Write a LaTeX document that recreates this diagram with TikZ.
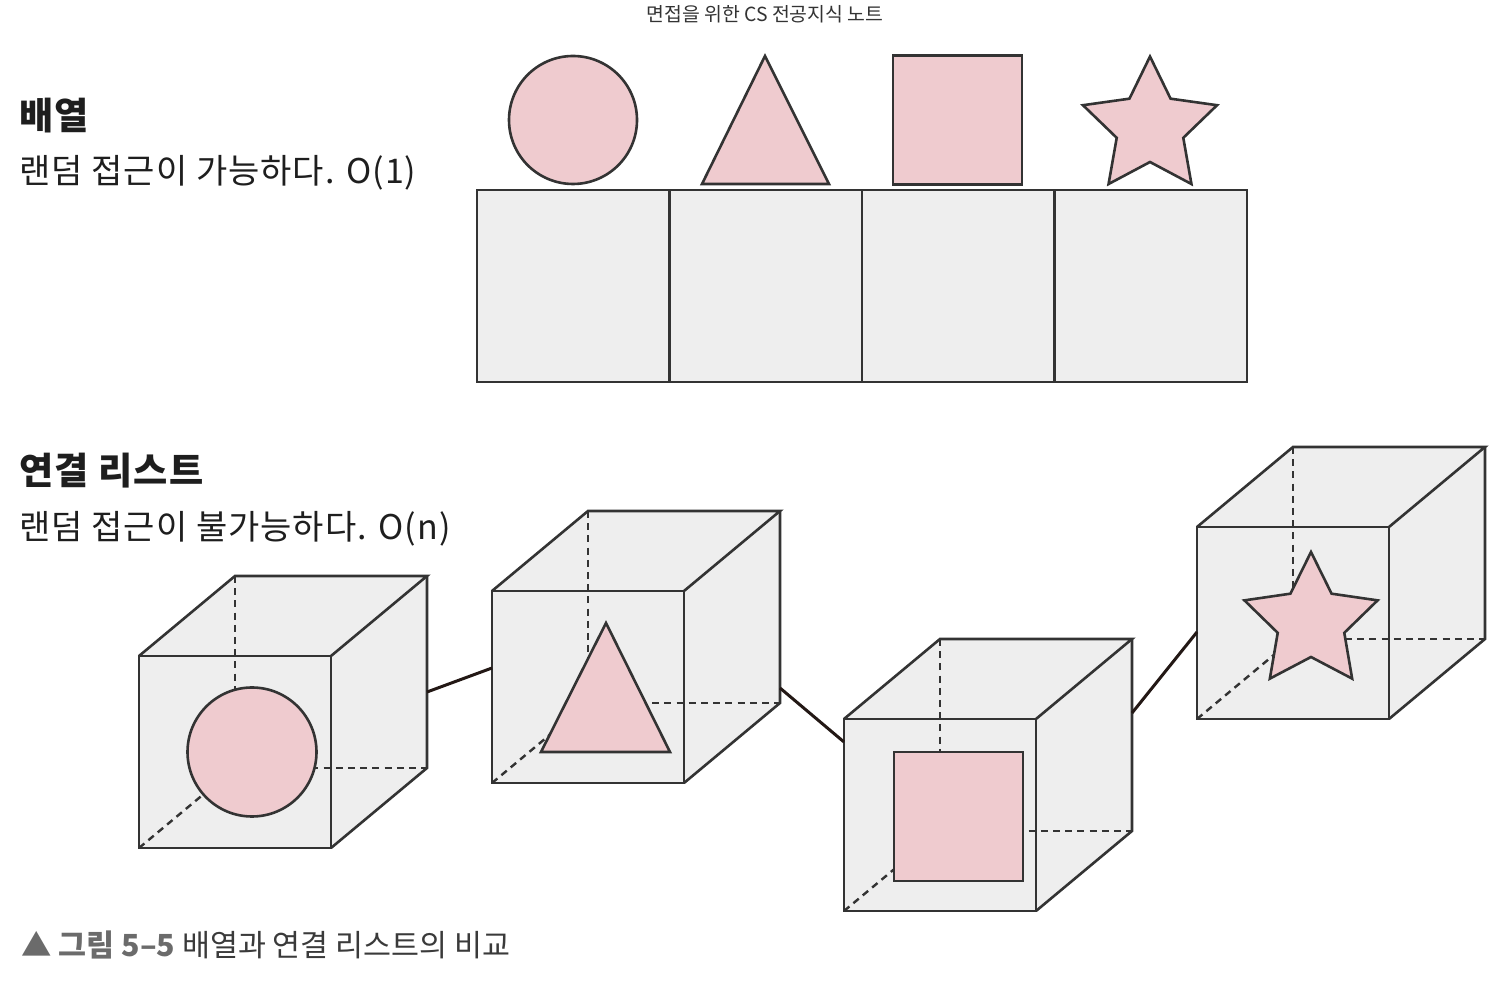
\documentclass[tikz,border=0pt]{standalone}
\usepackage{fontspec}
\newfontfamily\kr{Noto Sans CJK KR}
\newfontfamily\krw{Noto Sans CJK KR}[LetterSpace=3]
\definecolor{pinkf}{HTML}{EFCBCF}
\definecolor{boxf}{HTML}{EEEEEE}
\definecolor{edgec}{HTML}{333333}
\definecolor{linkc}{HTML}{231815}
\definecolor{txt}{HTML}{1E1E1E}
\definecolor{headc}{HTML}{333333}
\definecolor{capg}{HTML}{6B6B6B}
\definecolor{capt}{HTML}{3A3A3A}
\tikzset{
  edgeline/.style={draw=edgec, line width=1.3pt, line join=miter},
  hid/.style={draw=edgec, line width=1.2pt, dash pattern=on 3.5pt off 2.6pt},
  shp/.style={draw=edgec, fill=pinkf, line width=1.3pt, line join=miter},
  cell/.style={draw=edgec, fill=boxf, line width=1.3pt, minimum width=96.25pt, minimum height=96pt, inner sep=0pt, outer sep=0pt},
  linkline/.style={draw=linkc, line width=1.5pt},
  ttl/.style={anchor=west, inner sep=0pt, text=txt, font=\krw\bfseries\fontsize{18.6}{20}\selectfont},
  sub/.style={anchor=west, inner sep=0pt, text=txt, font=\krw\fontsize{17}{19}\selectfont},
}
\newcommand\mycube[3]{%
  \fill[boxf] (#1,#2) -- ({#1+96},{#2-80}) -- ({#1+288},{#2-80}) -- ({#1+288},{#2+112}) -- ({#1+192},{#2+192}) -- (#1,{#2+192}) -- cycle;
  \draw[hid] ({#1+96},{#2-80}) -- ({#1+96},{#2+112}) -- ({#1+288},{#2+112});
  \draw[hid] (#1,{#2+192}) -- ({#1+96},{#2+112});
  \draw[edgeline] (#1,#2) rectangle ({#1+192},{#2+192});
  \draw[edgeline] (#1,#2) -- ({#1+96},{#2-80}) -- ({#1+288},{#2-80}) -- ({#1+192},#2);
  \draw[edgeline] ({#1+288},{#2-80}) -- ({#1+288},{#2+112}) -- ({#1+192},{#2+192});
  \coordinate (#3) at (#1,#2);
}
\begin{document}
\begin{tikzpicture}[x=0.5pt,y=-0.5pt]
\useasboundingbox (0,0) rectangle (1510,1004);

% header
\node[inner sep=0pt, text=headc, font=\kr\fontsize{9.7}{11}\selectfont] (head) at (765,14) {면접을 위한 CS 전공지식 노트};

% left texts
\node[ttl] (t1) at (19,116) {배열};
\node[sub] (s1) at (19,173) {랜덤 접근이 가능하다. O(1)};
\node[ttl] (t2) at (19,471) {연결 리스트};
\node[sub] (s2) at (19,529) {랜덤 접근이 불가능하다. O(n)};

% array cells
\node[cell] (a1) at (573.25,286) {};
\node[cell] (a2) at (765.75,286) {};
\node[cell] (a3) at (958.25,286) {};
\node[cell] (a4) at (1150.75,286) {};

% array items
\node[shp, circle, minimum size=64pt, inner sep=0pt] (e1) at (573,120) {};
\draw[shp] (765,56) -- (829,184) -- (702,184) -- cycle;
\node[shp, rectangle, minimum size=64.5pt, inner sep=0pt] (e3) at (957.5,120) {};
\draw[shp] plot[samples at={0,...,9}] ({1150+(70.5-35.5*mod(\x,2))*sin(36*\x)},{127-(70.5-35.5*mod(\x,2))*cos(36*\x)}) -- cycle;

% linked list cubes
\mycube{139}{656}{k1}
\node[shp, circle, minimum size=64.5pt, inner sep=0pt] (f1) at (252,752) {};
\mycube{492}{591}{k2}
\draw[shp] (606,623) -- (670,752) -- (541,752) -- cycle;
\mycube{844}{719}{k3}
\node[shp, rectangle, minimum size=64.5pt, inner sep=0pt] (f3) at (958.5,816.5) {};
\mycube{1197}{527}{k4}
\draw[shp] plot[samples at={0,...,9}] ({1311+(70-35*mod(\x,2))*sin(36*\x)},{622-(70-35*mod(\x,2))*cos(36*\x)}) -- cycle;

% connectors
\coordinate (k1r) at (427,692);
\coordinate (k2l) at (492,668);
\coordinate (k2r) at (780,688);
\coordinate (k3l) at (844,742);
\coordinate (k3r) at (1132,713);
\coordinate (k4l) at (1197,632);
\draw[linkline] (k1r) -- (k2l);
\draw[linkline] (k2r) -- (k3l);
\draw[linkline] (k3r) -- (k4l);

% caption
\node[anchor=west, inner sep=0pt, text=capt, font=\kr\fontsize{15.2}{17}\selectfont] (cap) at (21,945) {\textcolor{capg}{\bfseries ▲ 그림 5–5} 배열과 연결 리스트의 비교};
\end{tikzpicture}
\end{document}
